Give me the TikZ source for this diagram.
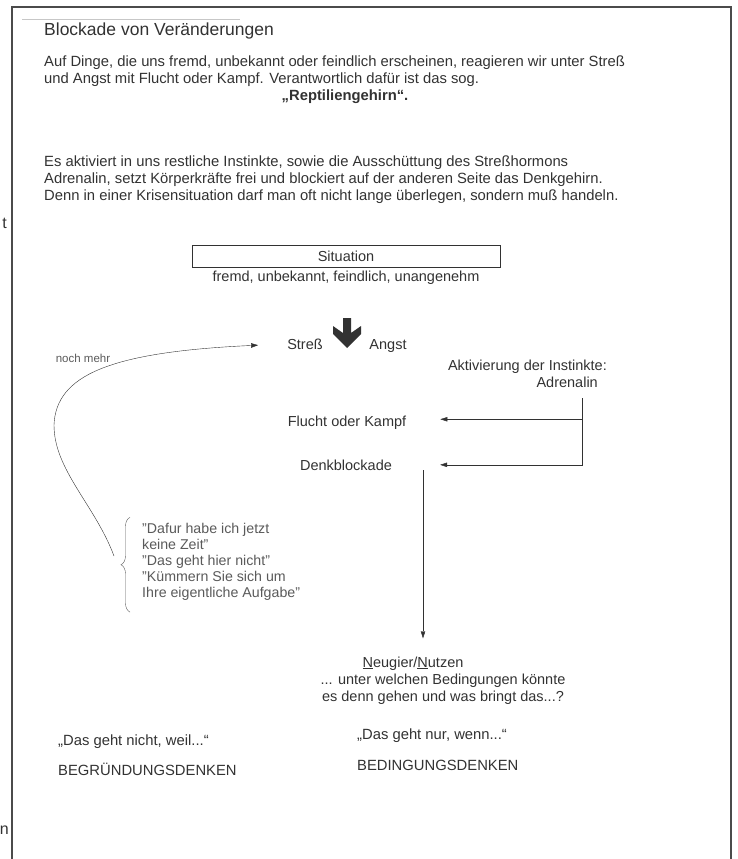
\documentclass[tikz,border=0pt]{standalone}
\usepackage{fontspec}
\setmainfont{Liberation Sans}
\usetikzlibrary{arrows.meta, positioning, decorations.pathreplacing, calc}
\definecolor{ink}{RGB}{50,50,50}
\definecolor{lightink}{RGB}{90,90,90}
\definecolor{framegray}{RGB}{75,75,75}

\begin{document}
\begin{tikzpicture}[
    x=1pt, y=-1pt,
    body/.style={font=\fontsize{14.8}{17}\selectfont, text=ink, inner sep=0pt, align=left},
    diag/.style={font=\fontsize{14.5}{17}\selectfont, text=ink, inner sep=0pt, align=center},
    quote/.style={font=\fontsize{14.2}{15.8}\selectfont, text=lightink, inner sep=0pt, align=left},
    tag/.style={font=\fontsize{11.5}{13}\selectfont, text=lightink, inner sep=0pt},
    arr/.style={-{Triangle[length=7pt, width=4.5pt]}, thin, color=ink}
  ]
  \useasboundingbox (0,0) rectangle (737,859);

  % page frame and header rule
  \draw[framegray, line width=1.6pt] (12,862) -- (12,7) -- (731,7) -- (731,862);
  \draw[black!22, line width=1pt] (22,20) -- (240,20);
  \node[font=\fontsize{16}{16}\selectfont, text=ink, inner sep=0pt, anchor=base east] (edget) at (7,228) {t};
  \node[font=\fontsize{16}{16}\selectfont, text=ink, inner sep=0pt, anchor=base east] (edgen) at (9,834) {n};

  % text above the diagram (base = last line)
  \node[font=\fontsize{17.5}{20}\selectfont, text=ink, inner sep=0pt, anchor=base west] (title) at (44,36)
    {Blockade von Veränderungen};
  \node[body, anchor=base west] (intro) at (44,83)
    {Auf Dinge, die uns fremd, unbekannt oder feindlich erscheinen, reagieren wir unter Streß\\
     und Angst mit Flucht oder Kampf. Verantwortlich dafür ist das sog.};
  \node[font=\bfseries\fontsize{14.8}{17}\selectfont, text=ink, inner sep=0pt, anchor=base] (rept) at (345,100)
    {„Reptiliengehirn“.};
  \node[body, anchor=base west] (effect) at (44,200)
    {Es aktiviert in uns restliche Instinkte, sowie die Ausschüttung des Streßhormons\\
     Adrenalin, setzt Körperkräfte frei und blockiert auf der anderen Seite das Denkgehirn.\\
     Denn in einer Krisensituation darf man oft nicht lange überlegen, sondern muß handeln.};

  % diagram
  \node[diag, draw=ink, thin, minimum width=308pt, minimum height=22pt] (sit) at (346,256.5) {Situation};
  \node[diag, anchor=base] (sitlab) at (346,281) {fremd, unbekannt, feindlich, unangenehm};
  \node[diag, anchor=base] (stress) at (305,349) {Streß};
  \node[diag, anchor=base] (angst) at (388,349) {Angst};
  \coordinate (fat) at (347,318);
  \fill[ink, shift={(fat)}] (-4,0) -- (4,0) -- (4,15) -- (14,8) -- (14,16) -- (0,30)
    -- (-14,16) -- (-14,8) -- (-4,15) -- cycle;

  \node[diag, align=right, anchor=base east] (aktiv) at (607,387)
    {Aktivierung der Instinkte:\\Adrenalin\hspace*{9pt}};
  \node[diag, anchor=base] (flucht) at (347,426) {Flucht oder Kampf};
  \node[diag, anchor=base] (denk) at (346,470) {Denkblockade};
  \coordinate (split) at (582,398);
  \draw[arr, shorten >=34pt] (split) |- ([yshift=3pt]flucht.east);
  \draw[arr, shorten >=48pt] (split) |- (denk.east);

  \node[quote, anchor=base west] (excuses) at (142,597)
    {"Dafur habe ich jetzt\\keine Zeit"\\"Das geht hier nicht"\\"Kümmern Sie sich um\\Ihre eigentliche Aufgabe"};
  \draw[lightink, thin, decorate, decoration={brace, amplitude=9pt}]
    ([xshift=-12pt, yshift=-12pt]excuses.south west) -- ([xshift=-12pt, yshift=6pt]excuses.north west);
  \coordinate (loopstart) at (114,556);
  \draw[arr, shorten >=29pt] (loopstart) .. controls (95,505) and (54,470) .. (54,425)
    .. controls (56,375) and (110,352) .. (stress.west);
  \node[tag, anchor=base] (more) at (83,362) {noch mehr};

  \node[diag, anchor=base] (neugier) at (413,667) {\underline{N}eugier/\underline{N}utzen};
  \node[diag, anchor=base] (frage) at (443,701)
    {... unter welchen Bedingungen könnte\\es denn gehen und was bringt das...?};
  \coordinate (drop) at (423,470);
  \draw[arr, shorten >=18pt] (drop) -- (drop |- neugier.north);

  % two ways of thinking
  \node[body, anchor=base west] (weil) at (58,745) {„Das geht nicht, weil...“};
  \node[body, anchor=base west] (begr) at (58,775) {BEGRÜNDUNGSDENKEN};
  \node[body, anchor=base west] (wenn) at (357,739) {„Das geht nur, wenn...“};
  \node[body, anchor=base west] (beding) at (357,770) {BEDINGUNGSDENKEN};
\end{tikzpicture}
\end{document}
